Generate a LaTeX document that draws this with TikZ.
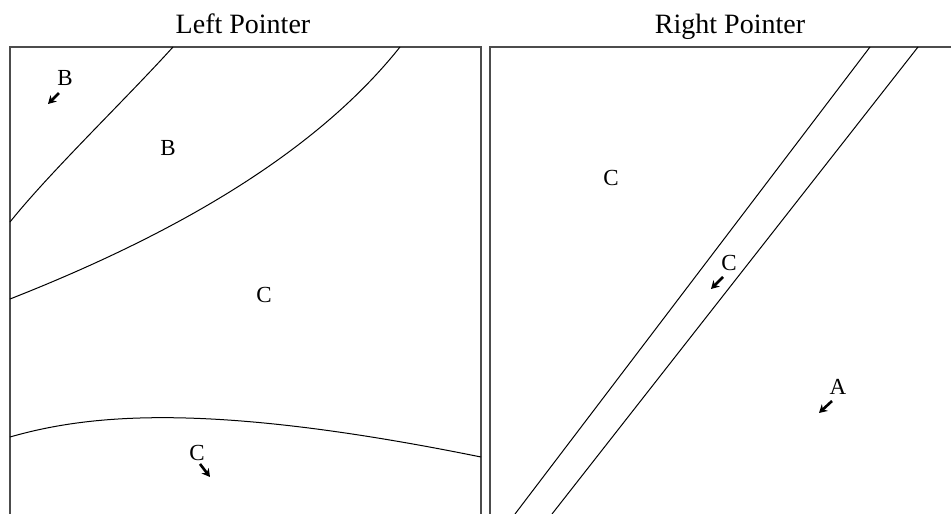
\documentclass[tikz,border=0pt]{standalone}
\usepackage{fontspec}
\setmainfont{Liberation Serif}
\usetikzlibrary{arrows.meta}

\begin{document}
\begin{tikzpicture}[x=1pt, y=-1pt, >=Stealth, every node/.style={font=\fontsize{23}{27}\selectfont, inner sep=0pt}]
                \useasboundingbox (0,0) rectangle (951,514);
                \tikzset{panel/.style={line width=1.4pt, black!70}, region/.style={line width=1pt}, pointer/.style={line width=2.6pt, -{Stealth[length=8pt, width=9pt]}}}

                % panels
                \draw[panel] (10,514) -- (10,47) -- (481,47) -- (481,514);
                \draw[panel] (490,514) -- (490,47) -- (951,47);
                \node[anchor=base, font=\fontsize{28}{32}\selectfont] (ltitle) at (243,33) {Left Pointer};
                \node[anchor=base, font=\fontsize{28}{32}\selectfont] (rtitle) at (730,33) {Right Pointer};

                % left regions
                \draw[region] (10,222) .. controls (50,172) and (125,100) .. (173,47);
                \draw[region] (10,299) .. controls (160,240) and (310,160) .. (400,47);
                \draw[region] (10,437) .. controls (90,414) and (210,402) .. (481,457);

                \node (B1) at (65,78) {B};
                \node (B2) at (168,148) {B};
                \node (C1) at (264,295) {C};
                \node (C2) at (197,453) {C};

                \coordinate (B1s) at (59,93);   \coordinate (B1e) at (48,104);
                \coordinate (C2s) at (200,464); \coordinate (C2e) at (210,477);
                \draw[pointer] (B1s) -- (B1e);
                \draw[pointer] (C2s) -- (C2e);

                % right regions
                \draw[region] (870,47) -- (515,514);
                \draw[region] (918,47) -- (552,514);

                \node (C3) at (611,178) {C};
                \node (C4) at (729,263) {C};
                \node (A1) at (838,387) {A};

                \coordinate (C4s) at (723,277); \coordinate (C4e) at (711,289);
                \coordinate (A1s) at (832,401); \coordinate (A1e) at (819,413);
                \draw[pointer] (C4s) -- (C4e);
                \draw[pointer] (A1s) -- (A1e);
            \end{tikzpicture}
\end{document}
